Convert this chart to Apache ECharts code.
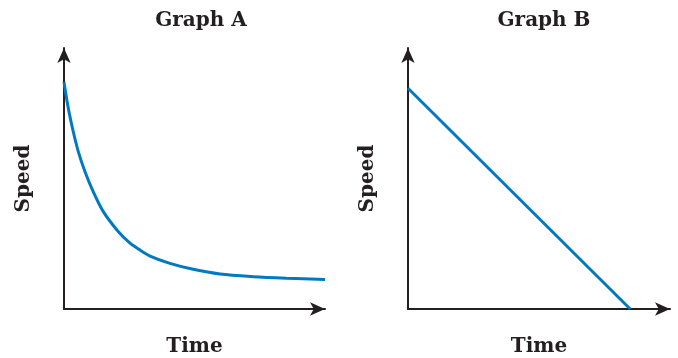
<!DOCTYPE html>
<html>
<head>
<meta charset="utf-8">
<script src="https://cdn.jsdelivr.net/npm/echarts@6/dist/echarts.min.js"></script>
<style>
html,body{margin:0;padding:0;background:#fff;}
#c{width:678px;height:358px;}
</style>
</head>
<body>
<div id="c"></div>
<script>
// Graph A: speed decays quickly, then levels off
const timeA  = [0.00, 0.165, 0.356, 0.548, 0.805, 1.123, 1.506, 2.06, 2.53, 2.85, 3.30, 4.06, 4.95, 5.98, 7.25, 8.53, 10.0];
const speedA = [8.70, 7.69, 6.79, 6.03, 5.26, 4.49, 3.73, 2.99, 2.52, 2.30, 2.03, 1.75, 1.52, 1.34, 1.24, 1.18, 1.13];
// Graph B: speed decreases linearly to zero
const timeB  = [0, 8.48];
const speedB = [8.46, 0];
const titles = ['Graph A', 'Graph B'];
const xName = 'Time';
const yName = 'Speed';

const axisColor = '#231f20';
const lineColor = '#0079c1';
const fontFam = 'DejaVu Serif';

const chart = echarts.init(document.getElementById('c'), null, {renderer: 'canvas'});

function axisCommon(isX) {
  return {
    type: 'value', min: 0, max: 10,
    axisLine: {show: true, onZero: false, lineStyle: {color: axisColor, width: 2},
      symbol: ['none', 'arrow'], symbolSize: [10, 15]},
    axisTick: {show: false}, axisLabel: {show: false}, splitLine: {show: false},
    name: isX ? xName : yName,
    nameLocation: 'middle',
    nameGap: isX ? 28 : 30,
    nameTextStyle: {fontFamily: fontFam, fontWeight: 'bold', fontSize: 20, color: '#231f20'}
  };
}

const grids = [
  {left: 64, top: 48, width: 261, height: 261, outerBoundsMode: 'none', containLabel: false},
  {left: 408, top: 48, width: 262, height: 261, outerBoundsMode: 'none', containLabel: false}
];

chart.setOption({
  animation: false,
  title: [
    {text: titles[0], left: 196, top: 6, textAlign: 'center',
     textStyle: {fontFamily: fontFam, fontWeight: 'bold', fontSize: 20, color: '#231f20'}},
    {text: titles[1], left: 539, top: 6, textAlign: 'center',
     textStyle: {fontFamily: fontFam, fontWeight: 'bold', fontSize: 20, color: '#231f20'}}
  ],
  grid: grids,
  xAxis: [Object.assign(axisCommon(true), {gridIndex: 0}), Object.assign(axisCommon(true), {gridIndex: 1})],
  yAxis: [Object.assign(axisCommon(false), {gridIndex: 0}), Object.assign(axisCommon(false), {gridIndex: 1})],
  series: [
    {type: 'line', xAxisIndex: 0, yAxisIndex: 0, smooth: 0.3, showSymbol: false, clip: false,
     lineStyle: {color: lineColor, width: 3}, z: 1,
     data: timeA.map((t, i) => [t, speedA[i]])},
    {type: 'line', xAxisIndex: 1, yAxisIndex: 1, showSymbol: false, clip: false,
     lineStyle: {color: lineColor, width: 3}, z: 1,
     data: timeB.map((t, i) => [t, speedB[i]])}
  ]
});
</script>
</body>
</html>
